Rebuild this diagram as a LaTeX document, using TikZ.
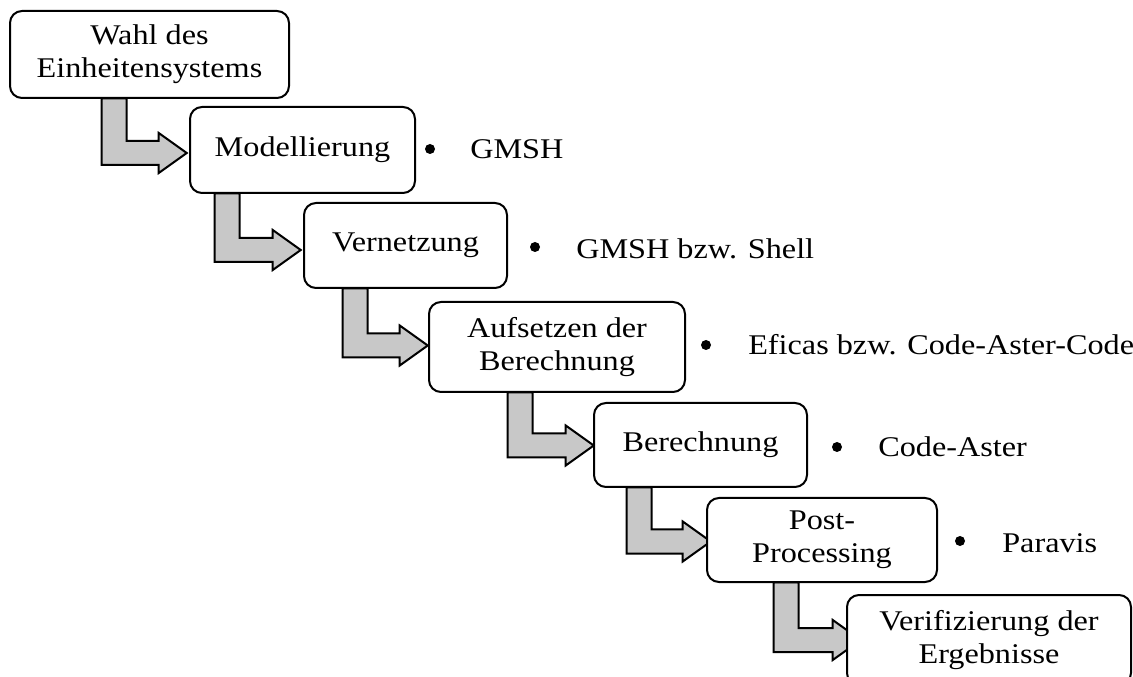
\documentclass[tikz,border=0pt]{standalone}
\usepackage{fontspec}
\setmainfont[FakeStretch=1.13]{Liberation Serif}
\usetikzlibrary{calc}
\definecolor{arrowgray}{RGB}{200,200,200}
\tikzset{
  stepbox/.style={draw=black, line width=1.5pt, rounded corners=9pt, fill=white,
    align=center, inner sep=0pt, font=\fontsize{21.4pt}{24.75pt}\selectfont},
  fatarrow/.style={draw=black, line width=1.5pt, fill=arrowgray, line join=miter},
  tool/.style={anchor=base west, inner sep=0pt, font=\fontsize{21.4pt}{24.75pt}\selectfont},
  dot/.style={circle, fill=black, inner sep=0pt, minimum size=7.5pt}
}
% #1 previous box, #2 next box, #3 stem offset, #4 vertical shift, #5 head base offset
\newcommand\fatarrow[5]{%
  \coordinate (s#2) at ($(#2.west)+(#3,#4)$);
  \coordinate (r#2) at ($(#2.west)+(#3+25,#4)$);
  \coordinate (h#2) at ($(#2.west)+(#5,#4)$);
  \draw[fatarrow] (s#2 |- #1.south) -- ($(s#2)+(0,12)$) -- ($(h#2)+(0,12)$)
    -- ($(h#2)+(0,20)$) -- ($(h#2)+(28,0)$) -- ($(h#2)+(0,-20)$)
    -- ($(h#2)+(0,-12)$) -- ($(r#2)+(0,-12)$) -- (r#2 |- #1.south) -- cycle;
}
\begin{document}
\begin{tikzpicture}[x=0.75pt,y=-0.75pt]
\clip (0,0) rectangle (1133,677);
\fill[white] (0,0) rectangle (1133,677);
\path
  (149.5,54.5) node[minimum width=209.25pt, minimum height=65.25pt, inner sep=0pt] (box1) {}
  (302.5,150) node[minimum width=168.75pt, minimum height=64.5pt, inner sep=0pt] (box2) {}
  (405.5,245.5) node[minimum width=152.25pt, minimum height=63.75pt, inner sep=0pt] (box3) {}
  (557,347) node[minimum width=192pt, minimum height=67.5pt, inner sep=0pt] (box4) {}
  (700.5,445) node[minimum width=159.75pt, minimum height=63pt, inner sep=0pt] (box5) {}
  (822,540) node[minimum width=172.5pt, minimum height=63pt, inner sep=0pt] (box6) {}
  (989,640) node[minimum width=213pt, minimum height=67.5pt, inner sep=0pt] (box7) {};
\fatarrow{box1}{box2}{-88}{3}{-31}
\fatarrow{box2}{box3}{-89}{4.5}{-31}
\fatarrow{box3}{box4}{-86}{-1.5}{-29}
\fatarrow{box4}{box5}{-86}{0.5}{-28}
\fatarrow{box5}{box6}{-80}{1.5}{-24}
\fatarrow{box6}{box7}{-73}{0}{-14}
\node[stepbox, minimum width=209.25pt, minimum height=65.25pt] (b1) at (box1) {Wahl des\\Einheitensystems};
\node[stepbox, minimum width=168.75pt, minimum height=64.5pt] (b2) at (box2) {Modellierung};
\node[stepbox, minimum width=152.25pt, minimum height=63.75pt] (b3) at (box3) {Vernetzung};
\node[stepbox, minimum width=192pt, minimum height=67.5pt] (b4) at (box4) {Aufsetzen der\\Berechnung};
\node[stepbox, minimum width=159.75pt, minimum height=63pt] (b5) at (box5) {Berechnung};
\node[stepbox, minimum width=172.5pt, minimum height=63pt] (b6) at (box6) {Post-\\Processing};
\node[stepbox, minimum width=213pt, minimum height=67.5pt] (b7) at (box7) {Verifizierung der\\Ergebnisse};
\node[dot] (d2) at (430,149) {};
\node[tool] (t2) at (470,159) {GMSH};
\node[dot] (d3) at (535,247) {};
\node[tool] (t3) at (576,259) {GMSH bzw. Shell};
\node[dot] (d4) at (706,345) {};
\node[tool] (t4) at (748,355) {Eficas bzw. Code-Aster-Code};
\node[dot] (d5) at (837,447) {};
\node[tool] (t5) at (878,457) {Code-Aster};
\node[dot] (d6) at (960,541) {};
\node[tool] (t6) at (1002,552) {Paravis};
\end{tikzpicture}
\end{document}
